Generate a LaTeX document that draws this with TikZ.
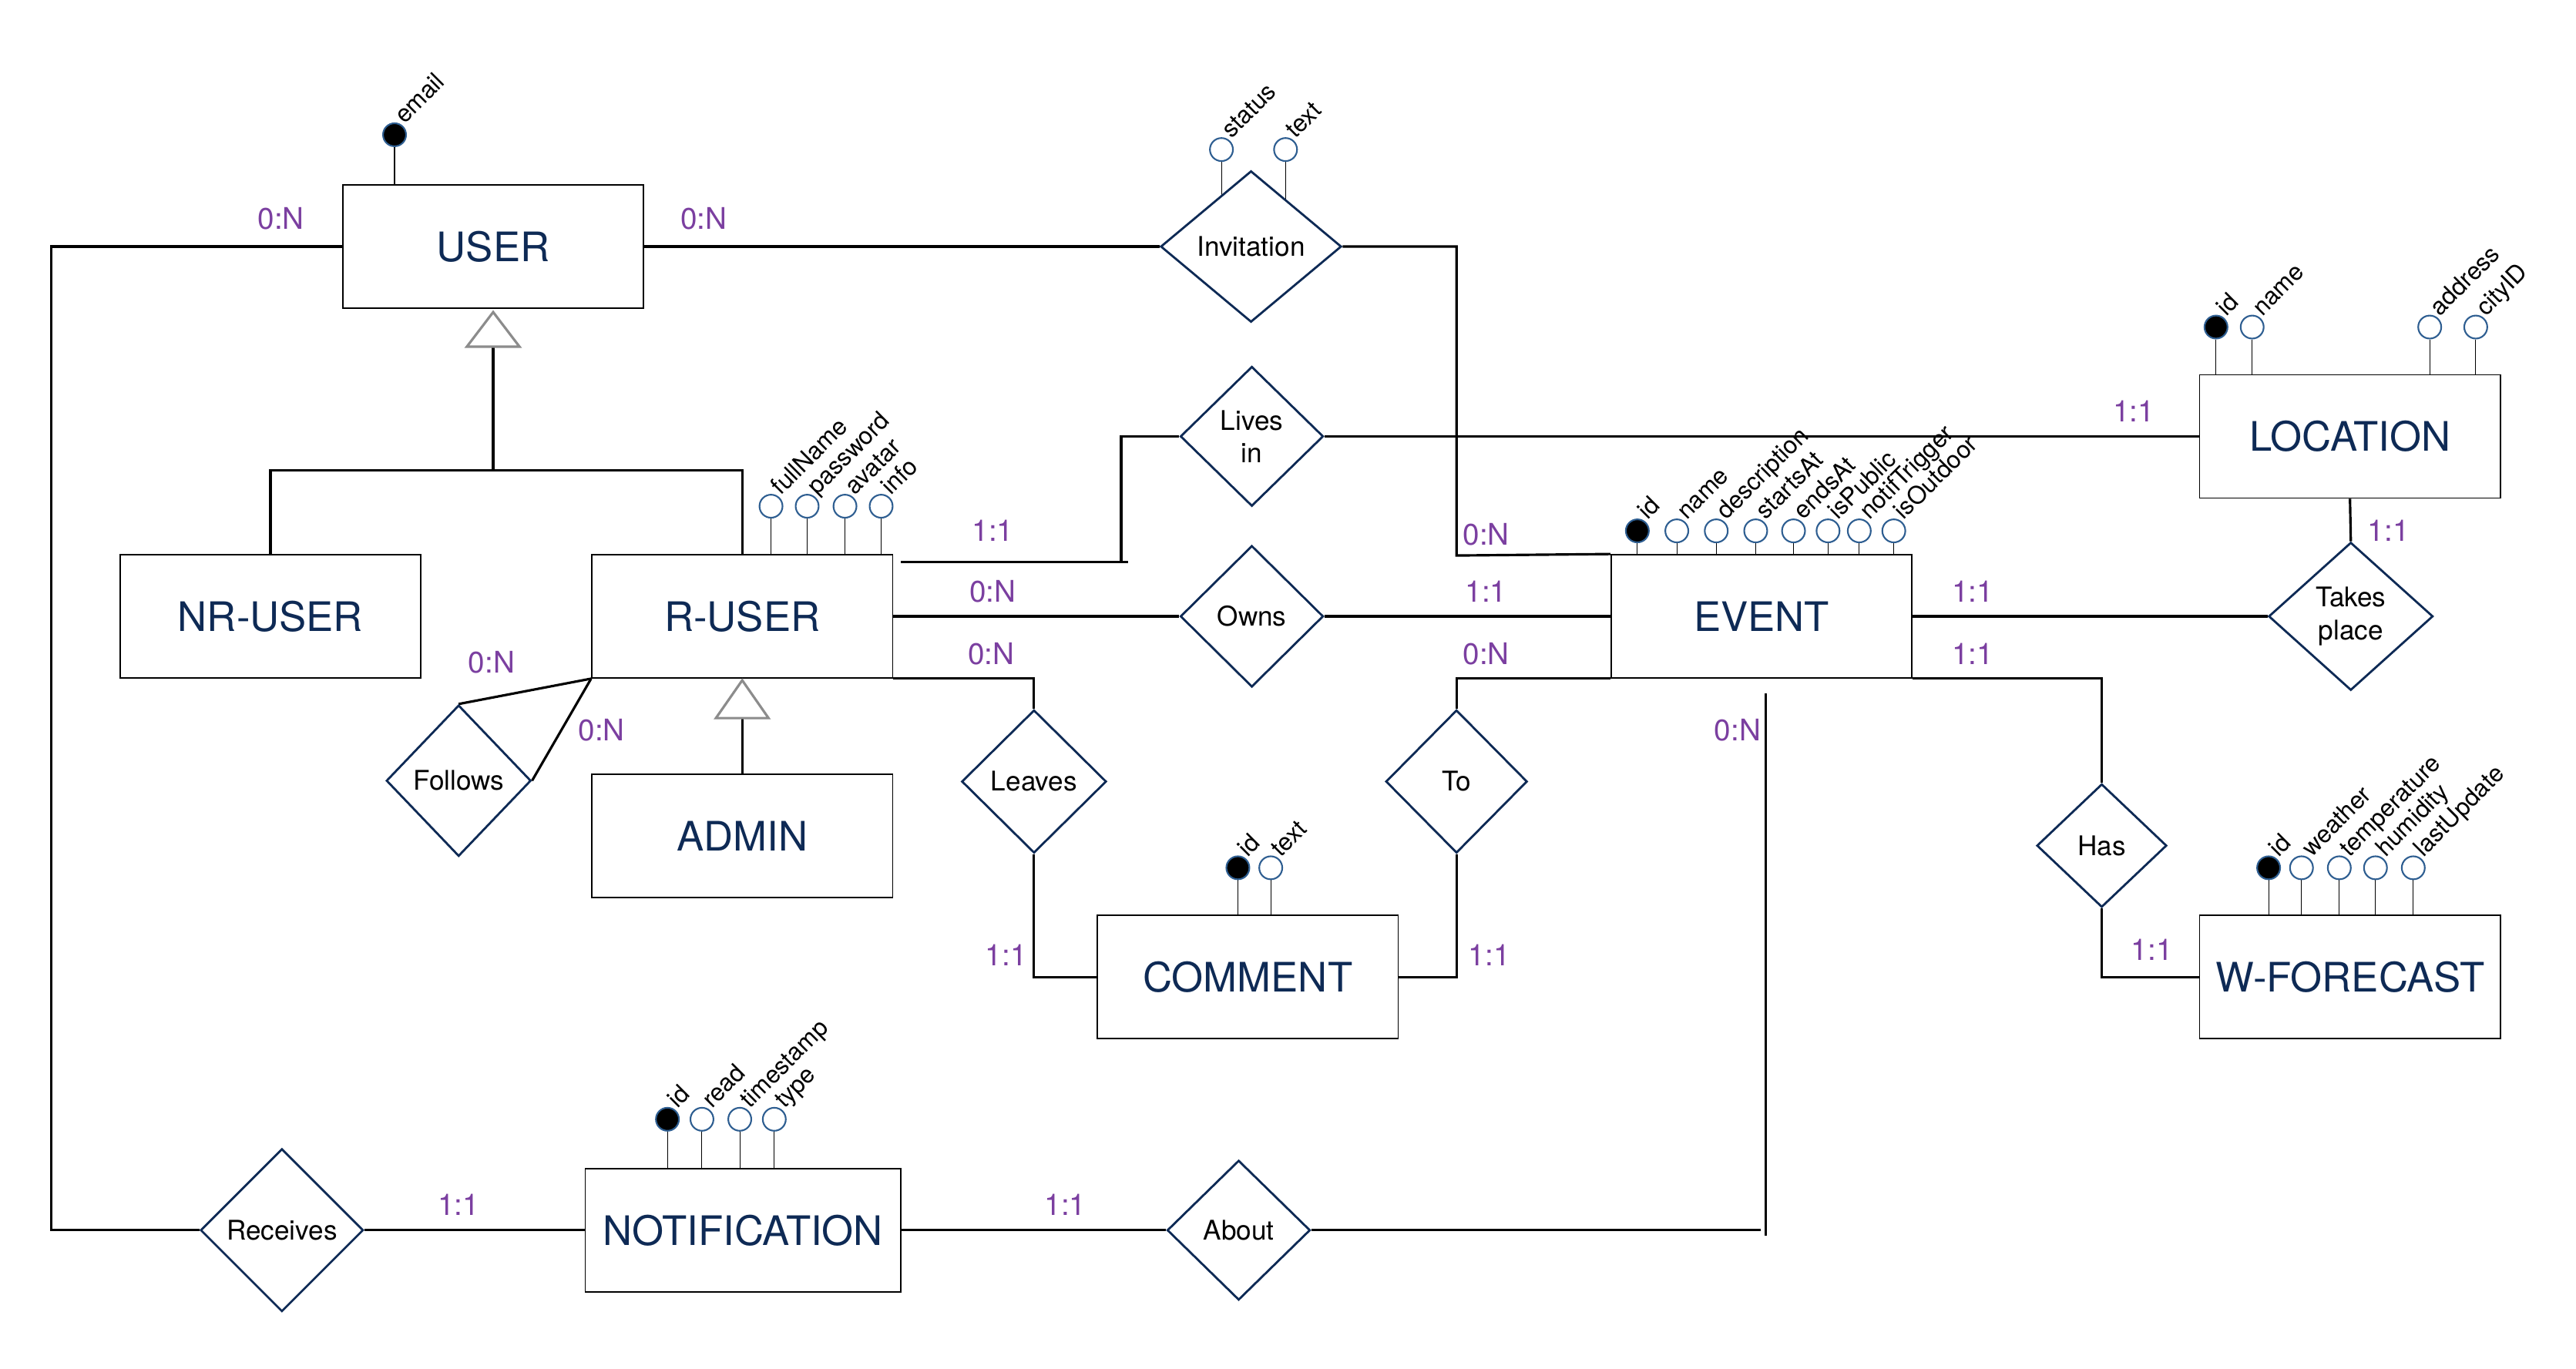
\documentclass[tikz,border=0pt]{standalone}
\usepackage{fontspec}
\setmainfont{TeX Gyre Heros}
\usetikzlibrary{shapes.geometric,backgrounds,calc}

\definecolor{navy}{HTML}{0E2A55}
\definecolor{cardc}{HTML}{7B3FA0}
\definecolor{attrblue}{HTML}{2E5E91}
\newcommand{\pxu}{0.21334mm}

\tikzset{
  entity/.style={draw, line width=0.5pt, fill=white, text=navy, inner sep=0pt,
    minimum width=183*\pxu, minimum height=75*\pxu, font=\fontsize{15}{18}\selectfont},
  rel/.style={diamond, draw=navy, line width=0.8pt, fill=white, inner sep=0pt,
    align=center, font=\fontsize{10}{12}\selectfont},
  conn/.style={line width=0.9pt},
  card/.style={text=cardc, font=\fontsize{11}{13}\selectfont},
  attr/.style={circle, draw=attrblue, line width=0.6pt, fill=white, minimum size=14*\pxu, inner sep=0pt},
  keyattr/.style={attr, fill=black},
  attrline/.style={line width=0.3pt},
  attrlabel/.style={rotate=45, anchor=base west, inner sep=0.6pt, font=\fontsize{9}{10}\selectfont},
  gen/.style={draw=black!45, line width=0.9pt, fill=white}
}

\begin{document}
\begin{tikzpicture}[x=\pxu, y=-\pxu]

\useasboundingbox (0,0) rectangle (1567,832.5);

\node[entity] (user) at (300,150) {USER};
\node[entity] (nruser) at (164.5,375) {NR-USER};
\node[entity] (ruser) at (451.5,375) {R-USER};
\node[entity] (admin) at (451.5,508.5) {ADMIN};
\node[entity] (event) at (1071.5,375) {EVENT};
\node[entity] (location) at (1429.5,265.5) {LOCATION};
\node[entity] (comment) at (759,594.5) {COMMENT};
\node[entity] (wforecast) at (1429.5,594.5) {W-FORECAST};
\node[entity, minimum width=192*\pxu] (notification) at (452,748.5) {NOTIFICATION};

\node[rel, minimum width=110*\pxu, minimum height=92*\pxu] (invitation) at (761,150) {Invitation};
\node[rel, minimum width=87*\pxu, minimum height=85*\pxu] (livesin) at (761.5,265.5) {Lives\\in};
\node[rel, minimum width=87*\pxu, minimum height=86*\pxu] (owns) at (761.5,375) {Owns};
\node[rel, minimum width=88*\pxu, minimum height=92*\pxu] (follows) at (279,475) {Follows};
\node[rel, minimum width=88*\pxu, minimum height=87*\pxu] (leaves) at (629,475.5) {Leaves};
\node[rel, minimum width=86*\pxu, minimum height=87*\pxu] (to) at (886,475.5) {To};
\node[rel, minimum width=100*\pxu, minimum height=90*\pxu] (takesplace) at (1430,375) {Takes\\place};
\node[rel, minimum width=79*\pxu, minimum height=75*\pxu] (has) at (1278.5,514.5) {Has};
\node[rel, minimum width=99*\pxu, minimum height=99*\pxu] (receives) at (171.5,748.5) {Receives};
\node[rel, minimum width=87*\pxu, minimum height=85*\pxu] (about) at (753.5,748.5) {About};

\begin{pgfonlayer}{background}
\coordinate (lft) at (31,450);
\draw[conn] (user.west) -| (lft) |- (receives.west);
\draw[conn] (user.east) -- (invitation.west);
\coordinate (invbend) at (886,338);
\draw[conn] (invitation.east) -| (invbend) -- (event.north west);

\coordinate (lvA) at (548,342);
\coordinate (lvB) at (686,342);
\coordinate (lvC) at (682,342);
\draw[conn] (lvA) -- (lvB);
\draw[conn] (lvC) |- (livesin.west);
\draw[conn] (livesin.east) -- (location.west);

\draw[conn] (ruser.east) -- (owns.west);
\draw[conn] (owns.east) -- (event.west);

\draw[conn] (follows.north) -- (ruser.south west);
\draw[conn] (follows.east) -- (ruser.south west);

\draw[conn] (ruser.south east) -| (leaves.north);
\draw[conn] (leaves.south) |- (comment.west);
\draw[conn] (event.south west) -| (to.north);
\draw[conn] (to.south) |- (comment.east);

\draw[conn] (event.east) -- (takesplace.west);
\draw[conn] (location.south) -- (takesplace.north);
\draw[conn] (event.south east) -| (has.north);
\draw[conn] (has.south) |- (wforecast.west);

\draw[conn] (receives.east) -- (notification.west);
\draw[conn] (notification.east) -- (about.west);
\coordinate (abEnd) at (1071,748.5);
\draw[conn] (about.east) -- (abEnd);
\coordinate (evA) at (1074,422);
\coordinate (evB) at (1074,752);
\draw[conn] (evA) -- (evB);

\coordinate (genU) at ($(user.south)+(0,23)$);
\coordinate (genBar) at (300,286);
\draw[conn] (genU) -- (genBar);
\draw[conn] (nruser.north) |- (genBar) -| (ruser.north);
\coordinate (genR) at ($(ruser.south)+(0,24)$);
\draw[conn] (genR) -- (admin.north);
\end{pgfonlayer}

\draw[gen] (user.south) ++(0,2) -- ++(16,21) -- ++(-32,0) -- cycle;
\draw[gen] (ruser.south) ++(0,1) -- ++(16,23) -- ++(-32,0) -- cycle;

% attributes
\foreach \x/\t/\s [count=\i] in {240/email/keyattr}{
  \node[\s] (us\i) at (\x,82) {};
  \node[attrlabel] (us\i-t) at (us\i.north east) {\t};
  \begin{pgfonlayer}{background}\draw[attrline] (us\i) -- (us\i |- user.north);\end{pgfonlayer}
}
\foreach \x/\t/\s [count=\i] in {743/status/attr,782/text/attr}{
  \node[\s] (in\i) at (\x,91) {};
  \node[attrlabel] (in\i-t) at (in\i.north east) {\t};
  \begin{pgfonlayer}{background}\draw[attrline] (in\i) -- (in\i |- invitation.center);\end{pgfonlayer}
}
\foreach \x/\t/\s [count=\i] in {469/fullName/attr,491/password/attr,514/avatar/attr,536/info/attr}{
  \node[\s] (ru\i) at (\x,308) {};
  \node[attrlabel] (ru\i-t) at (ru\i.north east) {\t};
  \begin{pgfonlayer}{background}\draw[attrline] (ru\i) -- (ru\i |- ruser.north);\end{pgfonlayer}
}
\foreach \x/\t/\s [count=\i] in {1348/id/keyattr,1370/name/attr,1478/address/attr,1506/cityID/attr}{
  \node[\s] (lo\i) at (\x,199) {};
  \node[attrlabel] (lo\i-t) at (lo\i.north east) {\t};
  \begin{pgfonlayer}{background}\draw[attrline] (lo\i) -- (lo\i |- location.north);\end{pgfonlayer}
}
\foreach \x/\t/\s [count=\i] in {996/id/keyattr,1020/name/attr,1044/description/attr,1068/startsAt/attr,
    1091/endsAt/attr,1112/isPublic/attr,1131/notifTrigger/attr,1152/isOutdoor/attr}{
  \node[\s] (ev\i) at (\x,323) {};
  \node[attrlabel] (ev\i-t) at (ev\i.north east) {\t};
  \begin{pgfonlayer}{background}\draw[attrline] (ev\i) -- (ev\i |- event.north);\end{pgfonlayer}
}
\foreach \x/\t/\s [count=\i] in {753/id/keyattr,773/text/attr}{
  \node[\s] (co\i) at (\x,528) {};
  \node[attrlabel] (co\i-t) at (co\i.north east) {\t};
  \begin{pgfonlayer}{background}\draw[attrline] (co\i) -- (co\i |- comment.north);\end{pgfonlayer}
}
\foreach \x/\t/\s [count=\i] in {1380/id/keyattr,1400/weather/attr,1423/temperature/attr,1445/humidity/attr,1468/lastUpdate/attr}{
  \node[\s] (wf\i) at (\x,528) {};
  \node[attrlabel] (wf\i-t) at (wf\i.north east) {\t};
  \begin{pgfonlayer}{background}\draw[attrline] (wf\i) -- (wf\i |- wforecast.north);\end{pgfonlayer}
}
\foreach \x/\t/\s [count=\i] in {406/id/keyattr,427/read/attr,450/timestamp/attr,471/type/attr}{
  \node[\s] (no\i) at (\x,681) {};
  \node[attrlabel] (no\i-t) at (no\i.north east) {\t};
  \begin{pgfonlayer}{background}\draw[attrline] (no\i) -- (no\i |- notification.north);\end{pgfonlayer}
}

% cardinalities
\node[card] (c1) at (171,133) {0:N};
\node[card] (c2) at (428,133) {0:N};
\node[card] (c3) at (904,325) {0:N};
\node[card] (c4) at (1298,250) {1:1};
\node[card] (c5) at (604,323) {1:1};
\node[card] (c6) at (604,360) {0:N};
\node[card] (c7) at (904,360) {1:1};
\node[card] (c8) at (603,398) {0:N};
\node[card] (c9) at (904,398) {0:N};
\node[card] (c10) at (1057,444) {0:N};
\node[card] (c11) at (1200,360) {1:1};
\node[card] (c12) at (1200,398) {1:1};
\node[card] (c13) at (1453,323) {1:1};
\node[card] (c14) at (1309,578) {1:1};
\node[card] (c15) at (612,581) {1:1};
\node[card] (c16) at (906,581) {1:1};
\node[card] (c17) at (299,403) {0:N};
\node[card] (c18) at (366,444) {0:N};
\node[card] (c19) at (279,733) {1:1};
\node[card] (c20) at (648,733) {1:1};

\end{tikzpicture}
\end{document}
